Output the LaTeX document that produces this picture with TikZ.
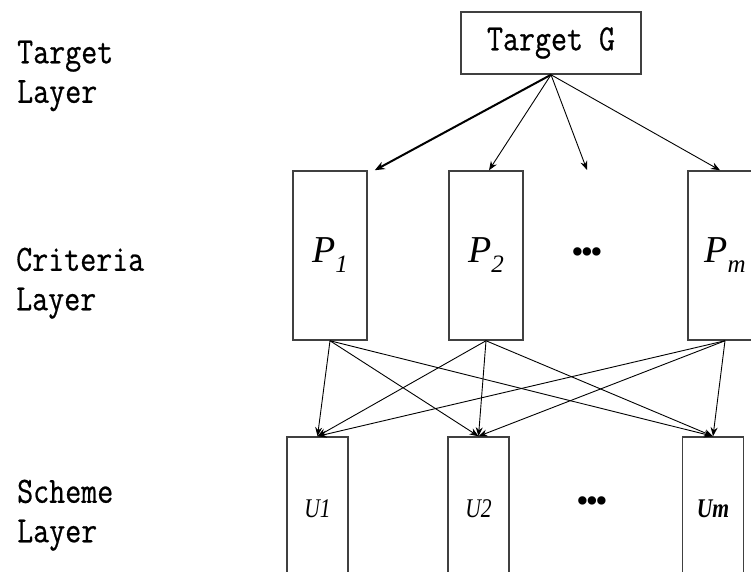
\documentclass[tikz,border=0pt]{standalone}
\usepackage{fontspec}
\usepackage{graphicx}
\setmainfont{Liberation Serif}
\newfontfamily\labelfont[FakeBold=0.6,FakeStretch=0.84]{Latin Modern Mono}
\usetikzlibrary{arrows.meta,calc}

% condensed typewriter face for the layer names and the goal box
\newcommand\monolbl[1]{{\fontsize{37}{39.5}\selectfont\labelfont #1}}
% criterion symbol P with a lowered index
\newcommand\critlbl[1]{{\fontsize{38}{38}\selectfont\itshape P\raisebox{-10pt}{\fontsize{25}{25}\selectfont #1}}}
% scheme symbol U with its index
\newcommand\schemelbl[1]{{\fontsize{27}{27}\selectfont\itshape\scalebox{0.8}[1]{#1}}}
% bold centred dots
\newcommand\dotrow{{\fontsize{35}{35}\selectfont\textbullet\kern-2.75pt\textbullet\kern-2.75pt\textbullet}}

\definecolor{boxline}{RGB}{64,64,64}

\tikzset{
  layername/.style={anchor=north west, inner sep=0pt, align=left,
                    font=\fontsize{37}{39.5}\selectfont},
  goalbox/.style={draw=boxline, line width=1.5pt, inner sep=0pt,
                  minimum width=180pt, minimum height=62pt},
  critbox/.style={draw=boxline, line width=1.5pt, inner sep=0pt,
                  minimum width=74pt, minimum height=169pt},
  schemebox/.style={draw=boxline, line width=1.5pt, inner sep=0pt,
                    minimum width=61pt, minimum height=144pt},
  link/.style={draw=black, line width=0.9pt,
               -{Stealth[length=9pt,width=7pt]}},
  boldlink/.style={draw=black, line width=2pt,
                   -{Stealth[length=10pt,width=8pt]}},
}

\begin{document}
\begin{tikzpicture}[x=1pt, y=-1pt]
  \useasboundingbox (0,0) rectangle (751,571);
  \clip (0,0) rectangle (751,571);

  % layer names on the left
  \node[layername] (lt) at (17,40.5) {\monolbl{Target}\\\monolbl{Layer}};
  \node[layername] (lc) at (16,247.5) {\monolbl{Criteria}\\\monolbl{Layer}};
  \node[layername] (ls) at (17,479.5) {\monolbl{Scheme}\\\monolbl{Layer}};

  % goal
  \node[goalbox] (g) at (551,43) {\monolbl{Target G}};

  % criteria
  \node[critbox] (p1) at (330,255.5) {\critlbl{1}};
  \node[critbox] (p2) at (486,255.5) {\critlbl{2}};
  \node[inner sep=0pt] (pdots) at (587,256) {\dotrow};
  \node[critbox] (pm) at (725,255.5) {\critlbl{m}};
  \coordinate (pdotsin) at (587,170);

  % schemes
  \node[schemebox] (u1) at (317.5,509) {\schemelbl{U1}};
  \node[schemebox] (u2) at (478.5,509) {\schemelbl{U2}};
  \node[inner sep=0pt] (udots) at (592,505) {\dotrow};
  \node[schemebox] (um) at (713,509) {\schemelbl{\bfseries Um}};

  % goal to criteria
  \draw[boldlink] (g.south) -- ([xshift=7pt]p1.north east);
  \draw[link] (g.south) -- ([xshift=3pt]p2.north);
  \draw[link] (g.south) -- (pdotsin);
  \draw[link] (g.south) -- ([xshift=-5pt]pm.north);

  % criteria to schemes
  \foreach \p in {p1,p2,pm}{
    \foreach \u in {u1,u2,um}{
      \draw[link] (\p.south) -- (\u.north);
    }
  }
\end{tikzpicture}
\end{document}
